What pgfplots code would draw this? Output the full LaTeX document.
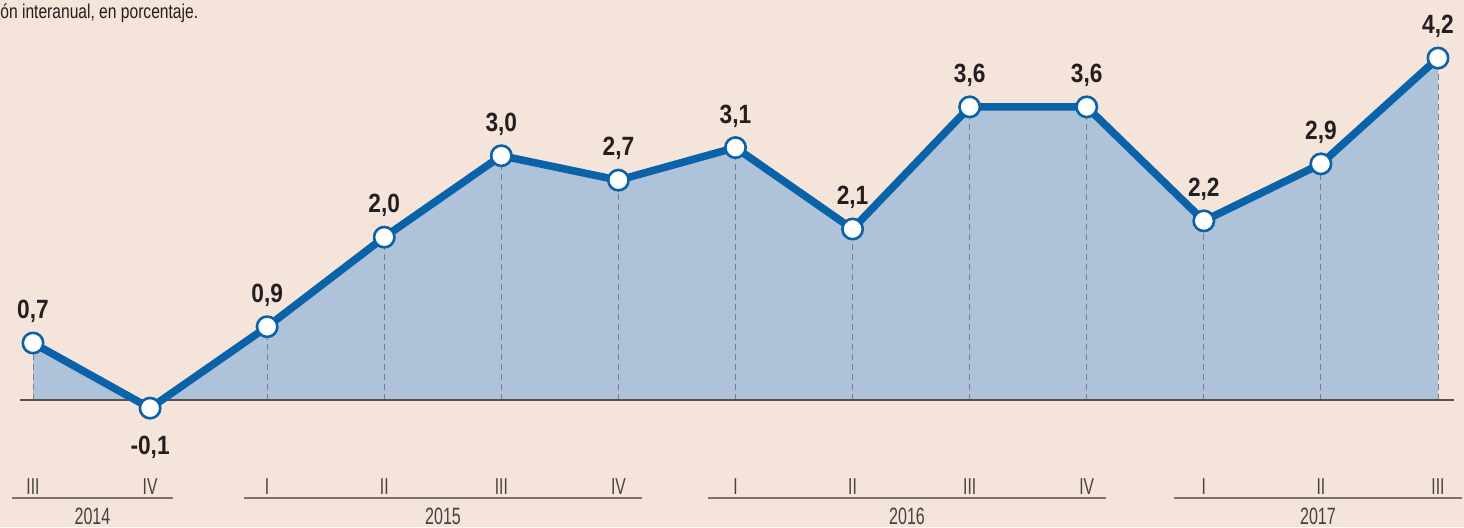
\documentclass[border=0pt]{standalone}
\usepackage{fontspec}
\setmainfont{Liberation Sans}[FakeStretch=0.78]
\newfontfamily\valfont{Liberation Sans}[FakeStretch=0.86]
\newfontfamily\tickfont{Liberation Sans}[FakeStretch=0.68]
\usepackage{pgfplots}
\usepackage{pgfplotstable}
\pgfplotsset{compat=1.18}
\definecolor{bg}{HTML}{F5E4D9}
\definecolor{areablue}{HTML}{AEC2DA}
\definecolor{lineblue}{HTML}{0A62A8}
\definecolor{txt}{HTML}{231F20}
\definecolor{yearline}{HTML}{7A726E}
\definecolor{zeroline}{HTML}{55504E}
\definecolor{dashgray}{HTML}{808080}

\pgfplotstableread{
x y
0 0.7
1 -0.1
2 0.9
3 2.0
4 3.0
5 2.7
6 3.1
7 2.1
8 3.6
9 3.6
10 2.2
11 2.9
12 4.2
}\data

\pgfplotstableread{
x y lab
0 0.7 0,7
2 0.9 0,9
3 2.0 2,0
4 3.0 3,0
5 2.7 2,7
6 3.1 3,1
7 2.1 2,1
8 3.6 3,6
9 3.6 3,6
10 2.2 2,2
11 2.9 2,9
12 4.2 4,2
}\poslabels

\pgfplotstableread{
x y lab
1 -0.1 -0,1
}\neglabels

\begin{document}
\begin{tikzpicture}
\fill[bg] (0,0) rectangle (732pt,263.5pt);
\path[use as bounding box] (0,0) rectangle (732pt,263.5pt);
\node[anchor=west, inner sep=0pt, text=txt, font=\fontsize{10}{11}\selectfont] at (0pt,257pt) {ón interanual, en porcentaje.};
\begin{axis}[
  at={(16.5pt,63.5pt)}, anchor=origin,
  scale only axis,
  width=702.5pt, height=223.9pt,
  xmin=0, xmax=12, ymin=-1, ymax=4.5,
  hide axis, clip=false,
]
\addplot[fill=areablue, draw=none] table[x=x,y=y] {\data} \closedcycle;
\addplot[ycomb, densely dashed, dashgray, line width=0.5pt, mark=none] table[x=x,y=y] {\data};
\draw[zeroline, line width=0.8pt] (axis cs:-0.111,0) -- (axis cs:12.137,0);
\addplot[lineblue, line width=3.8pt, line join=round, mark=*, mark size=5.1pt,
  mark options={fill=white, draw=lineblue, line width=1.3pt}] table[x=x,y=y] {\data};
\addplot[draw=none, mark=none, nodes near coords, point meta=explicit symbolic,
  every node near coord/.style={anchor=south, inner sep=0pt, yshift=10pt, text=txt,
  font=\valfont\bfseries\fontsize{13.2}{14}\selectfont}] table[x=x,y=y,meta=lab] {\poslabels};
\addplot[draw=none, mark=none, nodes near coords, point meta=explicit symbolic,
  every node near coord/.style={anchor=north, inner sep=0pt, yshift=-14pt, text=txt,
  font=\valfont\bfseries\fontsize{13.2}{14}\selectfont}] table[x=x,y=y,meta=lab] {\neglabels};
% year lines
\draw[yearline, line width=1pt] (axis cs:-0.179,-1.2) -- (axis cs:1.196,-1.2);
\draw[yearline, line width=1pt] (axis cs:1.802,-1.2) -- (axis cs:5.202,-1.2);
\draw[yearline, line width=1pt] (axis cs:5.765,-1.2) -- (axis cs:9.165,-1.2);
\draw[yearline, line width=1pt] (axis cs:9.746,-1.2) -- (axis cs:12.205,-1.2);
% quarter labels
\foreach \i/\q in {0/III,1/IV,2/I,3/II,4/III,5/IV,6/I,7/II,8/III,9/IV,10/I,11/II,12/III} {
  \edef\tmp{\noexpand\node[anchor=south, inner sep=0pt, text=txt!85, font=\noexpand\tickfont\noexpand\fontsize{11.5}{12}\noexpand\selectfont] at (axis cs:\i,-1.165) {\q};}
  \tmp
}
% year labels
\node[text=txt!85, inner sep=0pt, font=\tickfont\fontsize{11.8}{12}\selectfont] at (axis cs:0.508,-1.43) {2014};
\node[text=txt!85, inner sep=0pt, font=\tickfont\fontsize{11.8}{12}\selectfont] at (axis cs:3.502,-1.43) {2015};
\node[text=txt!85, inner sep=0pt, font=\tickfont\fontsize{11.8}{12}\selectfont] at (axis cs:7.465,-1.43) {2016};
\node[text=txt!85, inner sep=0pt, font=\tickfont\fontsize{11.8}{12}\selectfont] at (axis cs:10.975,-1.43) {2017};
\end{axis}
\end{tikzpicture}
\end{document}
